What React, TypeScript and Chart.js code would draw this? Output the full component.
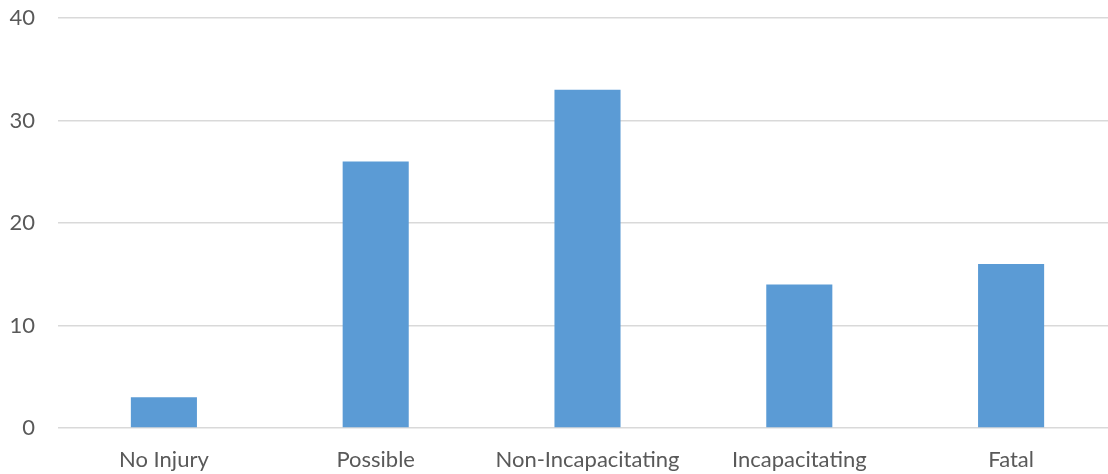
import React, { useEffect, useRef } from "react";
import { Chart, registerables } from "chart.js";

Chart.register(...registerables);

const categories = ["No Injury", "Possible", "Non-Incapacitating", "Incapacitating", "Fatal"];
const values = [3, 26, 33, 14, 16];
const yTicks = [0, 10, 20, 30, 40];

export default function App() {
  const ref = useRef<HTMLCanvasElement>(null);
  useEffect(() => {
    document.body.style.margin = "0";
    document.body.style.overflow = "hidden";
    const font = { family: "Lato, 'Liberation Sans', sans-serif", size: 22 };
    const chart = new Chart(ref.current!, {
      type: "bar",
      data: {
        labels: categories,
        datasets: [
          {
            data: values,
            backgroundColor: "#5b9bd5",
            barPercentage: 0.312,
            categoryPercentage: 1,
          },
        ],
      },
      options: {
        animation: false,
        responsive: false,
        maintainAspectRatio: false,
        layout: { padding: { top: 18, right: 3, left: 0, bottom: 0 } },
        plugins: { legend: { display: false }, tooltip: { enabled: false } },
        scales: {
          x: {
            grid: { display: false, drawTicks: false },
            border: { display: false },
            ticks: { color: "#595959", font, padding: 19, maxRotation: 0, autoSkip: false },
            afterFit: (s: any) => {
              s.height = 46;
              s.paddingLeft = 0;
              s.paddingRight = 0;
            },
          },
          y: {
            min: 0,
            max: 40,
            afterBuildTicks: (s: any) => {
              s.ticks = yTicks.map((v) => ({ value: v }));
            },
            grid: { color: "#d9d9d9", lineWidth: 1.5, drawTicks: false },
            border: { display: false },
            ticks: { color: "#595959", font, padding: 23 },
            afterFit: (s: any) => {
              s.width = 58;
              s.paddingTop = 0;
              s.paddingBottom = 0;
            },
          },
        },
      },
    });
    return () => chart.destroy();
  }, []);
  return (
    <div style={{ position: "fixed", left: 0, top: 0, width: 1120, height: 474, background: "#fff" }}>
      <canvas ref={ref} width={1120} height={474} style={{ width: 1120, height: 474 }} />
    </div>
  );
}
